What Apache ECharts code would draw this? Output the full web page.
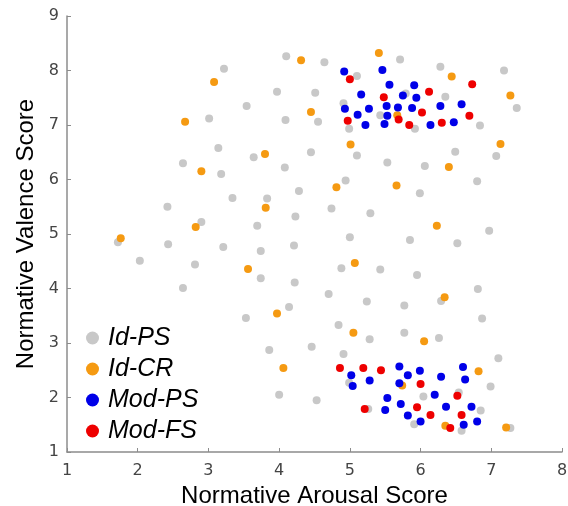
<!DOCTYPE html>
<html>
<head>
<meta charset="utf-8">
<script src="https://cdn.jsdelivr.net/npm/echarts@6/dist/echarts.min.js"></script>
<style>
  html, body { margin: 0; padding: 0; background: #fff; }
  #main { width: 568px; height: 506px; }
</style>
</head>
<body>
<div id="main"></div>
<script>
// [arousal, valence] pairs
const idPS = [
  [4.10, 8.26], [3.22, 8.03], [3.97, 7.61], [4.51, 7.59], [3.54, 7.35], [3.01, 7.12],
  [4.09, 7.09], [4.55, 7.06], [3.14, 6.58], [2.64, 6.30], [3.18, 6.10], [3.64, 6.41],
  [4.08, 6.22], [4.45, 6.50], [4.28, 5.79], [3.34, 5.66], [3.83, 5.65], [2.42, 5.50],
  [4.23, 5.32], [2.90, 5.22], [3.69, 5.15], [1.72, 4.85], [2.43, 4.81], [3.21, 4.76],
  [3.74, 4.69], [4.21, 4.79], [2.03, 4.51], [2.81, 4.44], [3.74, 4.19], [4.22, 4.11],
  [2.64, 4.01], [4.14, 3.66], [3.53, 3.46], [3.86, 2.87], [4.46, 2.93], [4.00, 2.05],
  [4.53, 1.95],
  [4.64, 8.15], [5.71, 8.20], [6.28, 8.07], [7.18, 8.00], [5.10, 7.90], [5.79, 7.58],
  [6.35, 7.52], [4.91, 7.40], [7.36, 7.31], [5.43, 7.18], [5.92, 6.93], [6.84, 6.99],
  [4.99, 6.93], [5.10, 6.44], [6.49, 6.51], [7.07, 6.43], [5.53, 6.31], [6.06, 6.25],
  [4.94, 5.98], [6.80, 5.97], [5.99, 5.75], [4.74, 5.47], [5.29, 5.38], [6.97, 5.06],
  [5.00, 4.94], [5.85, 4.89], [6.52, 4.83], [4.88, 4.37], [5.43, 4.35], [5.95, 4.25],
  [4.70, 3.90], [5.24, 3.76], [5.77, 3.69], [6.29, 3.77], [6.81, 3.99], [6.87, 3.45],
  [4.84, 3.33], [5.28, 3.07], [5.77, 3.19], [6.26, 3.09], [4.91, 2.80], [7.10, 2.72],
  [4.99, 2.27], [6.99, 2.20], [6.04, 2.02], [6.54, 2.09], [5.26, 1.79], [6.85, 1.76],
  [5.91, 1.51], [6.58, 1.39], [7.27, 1.44]
];
const idCR = [
  [4.31, 8.19], [3.08, 7.79], [4.45, 7.24], [2.67, 7.06], [2.90, 6.15], [3.80, 6.47],
  [3.81, 5.48], [2.82, 5.13], [1.76, 4.92], [3.56, 4.36], [3.97, 3.54], [4.06, 2.54],
  [5.41, 8.32], [6.44, 7.89], [7.27, 7.54], [5.67, 7.18], [5.01, 6.64], [7.13, 6.65],
  [6.40, 6.23], [4.81, 5.86], [5.66, 5.89], [6.23, 5.15], [5.07, 4.47], [6.34, 3.84],
  [5.05, 3.19], [6.05, 3.03], [6.82, 2.48], [5.74, 2.22], [6.35, 1.48], [7.21, 1.45]
];
const modPS = [
  [4.92, 7.98], [5.46, 8.01], [5.56, 7.74], [5.91, 7.73], [5.16, 7.56], [5.75, 7.54],
  [5.94, 7.50], [4.93, 7.30], [5.27, 7.30], [5.52, 7.35], [5.68, 7.32], [5.88, 7.31],
  [6.28, 7.35], [6.58, 7.38], [5.11, 7.19], [5.53, 7.17], [5.22, 7.00], [5.49, 7.02],
  [6.14, 7.00], [6.47, 7.05],
  [5.70, 2.57], [5.99, 2.49], [6.60, 2.56], [5.02, 2.41], [5.82, 2.41], [6.29, 2.38],
  [6.63, 2.33], [5.28, 2.31], [5.70, 2.26], [5.04, 2.21], [5.53, 1.99], [6.20, 2.05],
  [5.72, 1.88], [5.50, 1.77], [6.36, 1.83], [6.72, 1.83], [5.82, 1.67], [6.00, 1.56],
  [6.61, 1.50], [6.80, 1.56]
];
const modFS = [
  [5.00, 7.84], [6.73, 7.75], [6.12, 7.61], [5.48, 7.51], [5.69, 7.10], [6.02, 7.23],
  [6.69, 7.17], [4.97, 7.08], [5.84, 7.00], [6.30, 7.04],
  [4.86, 2.54], [5.19, 2.54], [5.44, 2.50], [6.00, 2.25], [6.52, 2.03], [5.21, 1.79],
  [5.95, 1.82], [6.14, 1.68], [6.58, 1.68], [6.42, 1.44]
];

const seriesNames = ['Id-PS', 'Id-CR', 'Mod-PS', 'Mod-FS'];
const seriesData = [idPS, idCR, modPS, modFS];
const colors = ['#c8c8c8', '#f59a12', '#0000e8', '#ee0000'];

const myChart = echarts.init(document.getElementById('main'));

const axisCommon = {
  type: 'value',
  nameLocation: 'middle',
  nameTextStyle: { fontFamily: 'Liberation Sans', fontSize: 24, color: '#000' },
  axisLine: { show: true, lineStyle: { color: '#8c8c8c', width: 1.5 } },
  axisTick: { show: true, inside: true, length: 4, lineStyle: { color: '#8c8c8c' } },
  axisLabel: { fontFamily: 'DejaVu Sans', fontSize: 16, color: '#444' },
  splitLine: { show: false }
};

myChart.setOption({
  animation: false,
  color: colors,
  grid: { left: 67, right: 6, top: 16, bottom: 54, outerBoundsMode: 'none' },
  legend: {
    orient: 'vertical',
    left: 86,
    top: 325,
    icon: 'circle',
    itemWidth: 13,
    itemHeight: 13,
    itemGap: 5,
    padding: 0,
    textStyle: { fontFamily: 'Liberation Sans', fontSize: 25, fontStyle: 'italic', color: '#000', lineHeight: 26, padding: [0, 0, 0, 4] },
    data: seriesNames
  },
  xAxis: Object.assign({}, axisCommon, {
    min: 1, max: 8, interval: 1,
    name: 'Normative Arousal Score',
    nameGap: 26,
    axisLabel: Object.assign({}, axisCommon.axisLabel, { margin: 11 })
  }),
  yAxis: Object.assign({}, axisCommon, {
    min: 1, max: 9, interval: 1,
    name: 'Normative Valence Score',
    nameGap: 29,
    axisLabel: Object.assign({}, axisCommon.axisLabel, { margin: 8 })
  }),
  series: seriesNames.map((name, i) => ({
    name: name,
    type: 'scatter',
    symbolSize: 8,
    itemStyle: { opacity: 1 },
    data: seriesData[i],
    z: 2 + i
  }))
});
</script>
</body>
</html>
